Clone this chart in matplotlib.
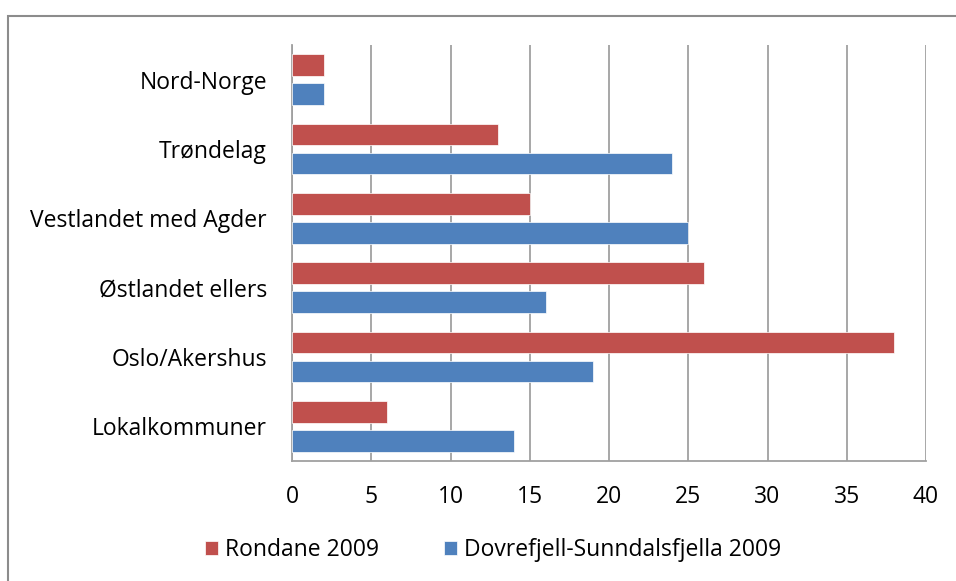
import matplotlib
matplotlib.use("Agg")
import matplotlib.pyplot as plt
import numpy as np
from matplotlib.patches import Rectangle

plt.rcParams["font.family"] = ["Open Sans", "DejaVu Sans"]

regions = ["Lokalkommuner", "Oslo/Akershus", "Østlandet ellers",
           "Vestlandet med Agder", "Trøndelag", "Nord-Norge"]
rondane = [6, 38, 26, 15, 13, 2]
dovre = [14, 19, 16, 25, 24, 2]

RED = "#C0504D"
BLUE = "#4F81BD"

fig = plt.figure(figsize=(9.56, 5.81), dpi=100)
ax = fig.add_axes([292 / 956, 1 - 461 / 581, (926 - 292) / 956, (461 - 45) / 581])

y = np.arange(len(regions))
h = 0.31
ax.barh(y + 0.21, rondane, height=h, color=RED, label="Rondane 2009",
        edgecolor="white", linewidth=0.5, zorder=3)
ax.barh(y - 0.21, dovre, height=h, color=BLUE,
        label="Dovrefjell-Sunndalsfjella 2009",
        edgecolor="white", linewidth=0.5, zorder=3)

ax.set_xlim(0, 40)
ax.set_ylim(-0.5, len(regions) - 0.5)
ax.set_xticks(range(0, 41, 5))
ax.set_yticks(y)
ax.set_yticklabels(regions)
ax.tick_params(axis="both", length=0, labelsize=16.5, colors="black")
ax.tick_params(axis="x", pad=17)
ax.tick_params(axis="y", pad=18)
ax.grid(axis="x", color="#A0A0A0", linewidth=1.3, zorder=0)
for s in ["top", "right"]:
    ax.spines[s].set_visible(False)
for s in ["left", "bottom"]:
    ax.spines[s].set_color("#A0A0A0")
    ax.spines[s].set_linewidth(1.3)

ax.legend(loc="center", bbox_to_anchor=(493 / 956, 1 - 550 / 581),
          bbox_transform=fig.transFigure,
          ncol=2, frameon=False, fontsize=16.5, handlelength=0.6,
          handleheight=0.6, handletextpad=0.3, columnspacing=2.8)

fig.patches.append(Rectangle((8 / 956, -0.05), 1.2, 1.05 - 16 / 581,
                             transform=fig.transFigure, fill=False,
                             edgecolor="#8C8C8C", linewidth=1.5))

fig.savefig("out.png", dpi=100)
